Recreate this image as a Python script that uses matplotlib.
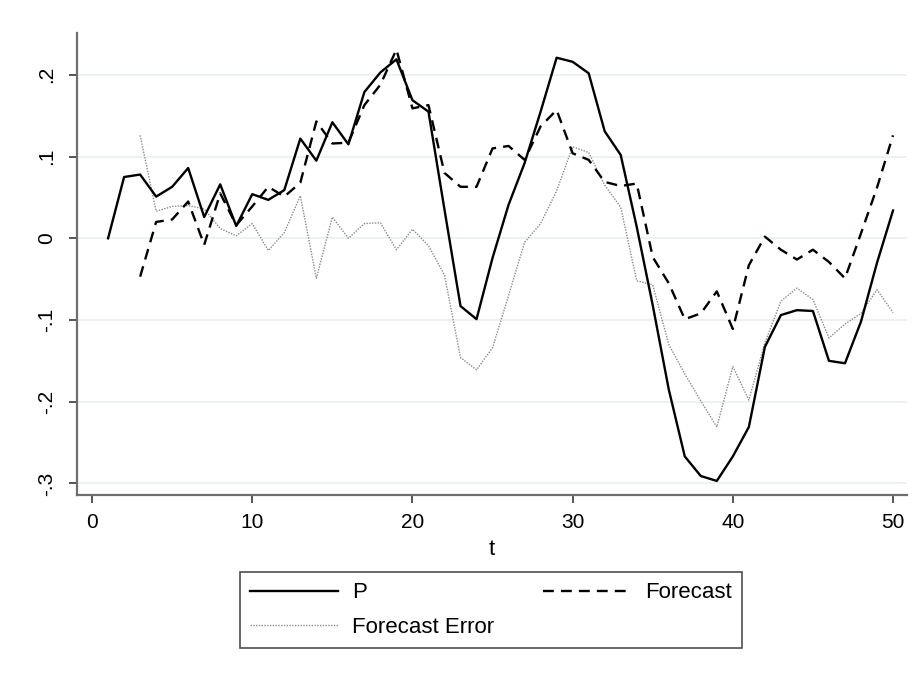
import matplotlib
matplotlib.use("Agg")
import matplotlib.pyplot as plt

plt.rcParams['font.family'] = ['Liberation Sans', 'DejaVu Sans']

# Time index
t_p = list(range(1, 51))
t_f = list(range(3, 51))

# Price series P (t = 1..50)
p_vals = [0.000, 0.075, 0.078, 0.051, 0.063, 0.086, 0.026, 0.066, 0.015, 0.054,
          0.047, 0.059, 0.122, 0.095, 0.142, 0.115, 0.179, 0.203, 0.219, 0.169,
          0.155, 0.035, -0.083, -0.099, -0.024, 0.041, 0.092, 0.155, 0.221, 0.216,
          0.202, 0.131, 0.102, 0.014, -0.082, -0.185, -0.267, -0.291, -0.297, -0.267,
          -0.231, -0.133, -0.094, -0.088, -0.089, -0.150, -0.153, -0.102, -0.030, 0.034]

# One-step forecast (t = 3..50)
f_vals = [-0.047, 0.020, 0.023, 0.045, -0.008, 0.055, 0.016, 0.039, 0.063, 0.051,
          0.068, 0.143, 0.116, 0.117, 0.163, 0.188, 0.231, 0.159, 0.163, 0.080,
          0.063, 0.063, 0.110, 0.113, 0.096, 0.137, 0.157, 0.104, 0.096, 0.069,
          0.064, 0.067, -0.023, -0.055, -0.099, -0.092, -0.065, -0.111, -0.033, 0.002,
          -0.014, -0.026, -0.014, -0.029, -0.049, 0.006, 0.062, 0.126]

# Forecast error (t = 3..50)
e_vals = [0.126, 0.033, 0.039, 0.040, 0.036, 0.012, 0.003, 0.018, -0.015, 0.007,
          0.052, -0.049, 0.026, 0.000, 0.018, 0.019, -0.014, 0.011, -0.009, -0.045,
          -0.146, -0.161, -0.134, -0.070, -0.005, 0.018, 0.058, 0.112, 0.105, 0.065,
          0.038, -0.052, -0.057, -0.130, -0.166, -0.199, -0.231, -0.157, -0.198, -0.128,
          -0.077, -0.061, -0.075, -0.122, -0.105, -0.092, -0.063, -0.091]

x_ticks = [0, 10, 20, 30, 40, 50]
y_ticks = [-0.3, -0.2, -0.1, 0.0, 0.1, 0.2]
y_tick_labels = ['-.3', '-.2', '-.1', '0', '.1', '.2']

fig = plt.figure(figsize=(9.19, 6.74), dpi=100)
fig.patch.set_facecolor('white')
ax = fig.add_axes([0.0838, 0.2656, 0.9031, 0.6855])

ax.plot(t_p, p_vals, color='black', lw=1.7, label='P', zorder=4)
ax.plot(t_f, f_vals, color='black', lw=1.7, ls=(0, (4.6, 3.0)), label='Forecast', zorder=3)
ax.plot(t_f, e_vals, color='#8a8a8a', lw=1.0, ls=(0, (1, 1)), label='Forecast Error', zorder=2)

ax.set_xlim(-0.94, 50.87)
ax.set_ylim(-0.3142, 0.2513)
ax.set_xticks(x_ticks)
ax.set_yticks(y_ticks)
ax.set_yticklabels(y_tick_labels, rotation=90, va='center')
ax.tick_params(axis='both', direction='out', length=6, width=1.4, color='#555555',
               labelsize=15, labelcolor='black')
ax.tick_params(axis='x', pad=7)
ax.tick_params(axis='y', pad=9)
ax.grid(axis='y', color='#e6f0f1', lw=1.2)
ax.set_axisbelow(True)
for side in ('top', 'right'):
    ax.spines[side].set_visible(False)
for side in ('left', 'bottom'):
    ax.spines[side].set_color('#6e6e6e')
    ax.spines[side].set_linewidth(1.6)
ax.set_xlabel('t', fontsize=16, labelpad=5)

handles, labels = ax.get_legend_handles_labels()
order = [0, 2, 1]
leg = fig.legend([handles[i] for i in order], [labels[i] for i in order],
                 loc='center', bbox_to_anchor=(0.534, 0.095), ncol=2,
                 fontsize=16, frameon=True, fancybox=False, edgecolor='#222222',
                 handlelength=3.96, handletextpad=0.63, columnspacing=2.2,
                 borderpad=0.45, labelspacing=0.6, borderaxespad=0)
leg.get_frame().set_linewidth(1.2)

fig.savefig('out.png', dpi=100, facecolor='white')
